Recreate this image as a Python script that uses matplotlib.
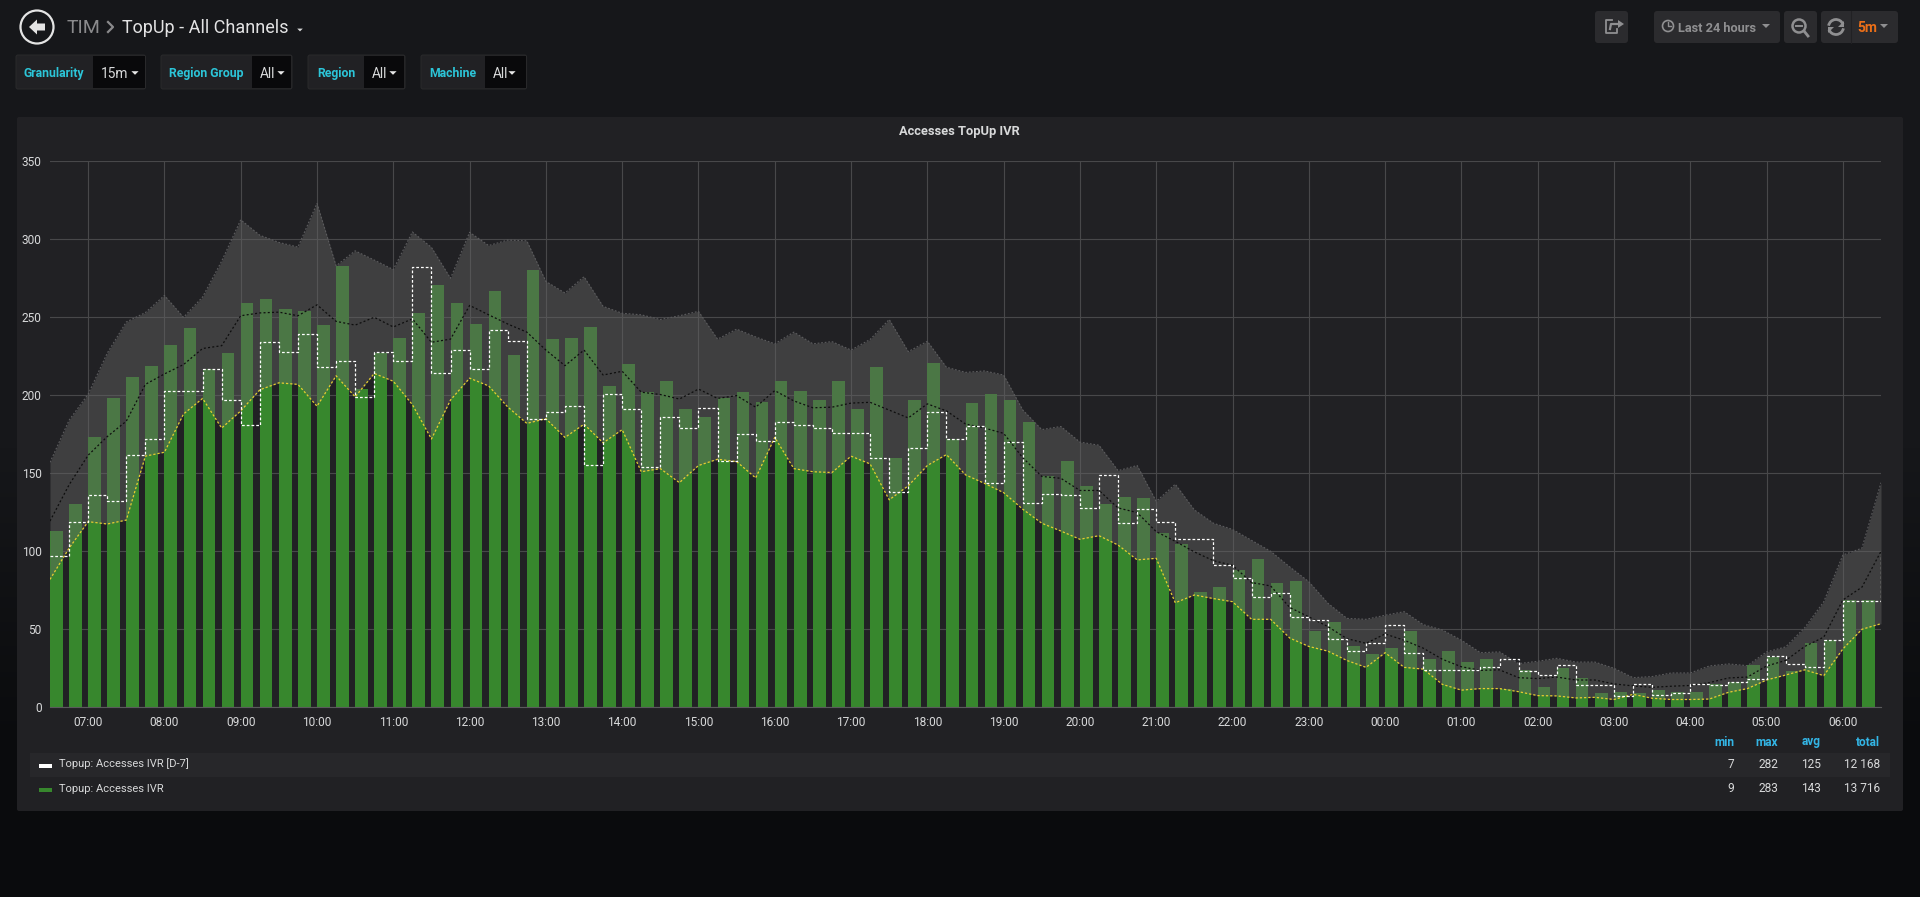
import numpy as np
import matplotlib
matplotlib.use("Agg")
import matplotlib.pyplot as plt
from matplotlib.patches import FancyBboxPatch, Rectangle, Circle, Polygon, Arc

plt.rcParams["font.family"] = ["Roboto", "DejaVu Sans"]

# valori, un punto ogni 15 minuti a partire dalle 06:30
bars_today = [113, 130, 173, 198, 212, 219, 232, 243, 217, 227, 259, 262, 255, 254, 245, 283,
              204, 227, 237, 253, 271, 259, 246, 267, 226, 280, 236, 237, 244, 206, 220, 202,
              209, 191, 186, 198, 202, 196, 209, 203, 197, 209, 191, 218, 160, 197, 221, 172,
              195, 201, 197, 183, 148, 158, 142, 130, 135, 134, 112, 105, 74, 77, 88, 95,
              80, 81, 49, 55, 39, 34, 38, 49, 31, 36, 29, 31, 12, 24, 13, 25,
              19, 9, 10, 9, 11, 10, 10, 15, 16, 27, 32, 23, 41, 43, 69, 69]

d7_steps = [97, 119, 136, 132, 162, 172, 203, 203, 217, 197, 181, 234, 228, 239, 218, 222,
            199, 228, 222, 282, 214, 229, 217, 242, 235, 185, 189, 193, 155, 201, 191, 154,
            186, 179, 192, 158, 175, 171, 183, 181, 179, 176, 176, 160, 138, 166, 189, 172,
            180, 144, 170, 131, 137, 136, 128, 149, 118, 127, 119, 108, 108, 91, 83, 71,
            73, 58, 56, 44, 36, 41, 53, 35, 24, 24, 24, 26, 31, 23, 21, 27,
            14, 14, 7, 15, 8, 9, 15, 14, 16, 18, 33, 28, 26, 43, 68, 68, 98]

band_min = [82, 102, 119, 117.5, 120, 161, 163.5, 188, 198, 179, 190, 203.5, 208, 207, 193, 212.5,
            199, 214, 209, 194, 172, 197, 211, 206, 192.5, 182, 185, 173, 181.5, 169.5, 178, 151,
            153, 144, 155, 159, 157.5, 147, 173, 153, 151, 150.5, 161, 156, 133, 142, 155, 162,
            149, 143.5, 137.6, 127, 118, 113, 107.7, 110, 104, 94.5, 95.5, 67, 72, 69.7, 67.7, 56.4,
            56.4, 44.4, 39, 36, 30, 25.6, 35, 25.6, 24.5, 14.7, 11, 12, 12, 10, 7.5, 7.3,
            6, 6.4, 5, 8.3, 5.8, 5, 5, 5.3, 9.6, 12, 17.5, 20.7, 24, 20.3, 37.4, 50, 53.6]

band_max = [157, 184, 200.7, 227, 247, 253, 264, 250, 263, 286, 312.5, 302.6, 298, 295, 323, 283,
            292.6, 286.7, 280.6, 304.7, 294.8, 275, 304.5, 296, 299.5, 299, 273, 265.6, 276, 257, 252.6, 251.6,
            248.6, 251, 253.8, 236, 242.4, 237.4, 233, 240.5, 233, 234.4, 229, 235.8, 248.6, 228, 234.6, 218,
            214.7, 215.6, 213, 190.6, 178, 180, 170, 168, 151.7, 155, 132, 143, 126.5, 118, 114, 107,
            100, 90, 80.5, 66.7, 57, 56.4, 59, 61.3, 53, 49.6, 43, 35, 35.5, 28, 29.5, 31.4,
            29, 29, 25, 19, 19.7, 22, 22, 26.5, 27.8, 26.7, 35.5, 38.7, 51, 67.7, 97.6, 102, 144]

band_mean = [119.4, 142.6, 161.6, 173.5, 183.4, 207, 213.7, 219.7, 230, 231.8, 251, 252.8, 253.3, 251, 258, 247.4,
             245, 250, 243.8, 249, 234, 236, 257.6, 251.6, 245.7, 240.5, 229, 219, 229, 213, 215.4, 202,
             200.5, 197.6, 204, 198, 199.8, 192.4, 203, 196.4, 192, 192.4, 195, 195.5, 190.5, 185.5, 194.5, 190,
             181.6, 179, 175.6, 160, 148, 146.8, 139, 139, 127.8, 124.8, 112.6, 106.4, 99.6, 94, 91, 80,
             77.8, 64, 58, 51.7, 44, 41, 47, 43, 37.9, 30.8, 26, 23.7, 24, 19, 18.4, 19.4,
             17.5, 17.5, 15, 13.7, 12.8, 13.5, 14, 15.8, 18.8, 19.4, 26.5, 30, 39, 45, 68.8, 77, 100]

y_ticks = [0, 50, 100, 150, 200, 250, 300, 350]
hour_ticks = list(range(7, 31))

legend_names = ["Topup: Accesses IVR [D-7]", "Topup: Accesses IVR"]
legend_columns = ["min", "max", "avg", "total"]
legend_values = [["7", "282", "125", "12 168"], ["9", "283", "143", "13 716"]]

W, H = 1920, 897
TEXT = "#d8d9da"
BLUE = "#33b5e5"
CYAN = "#2cc5d8"
GREEN = "#37872d"

fig = plt.figure(figsize=(W / 100, H / 100), dpi=100)

# asse in pixel per tutta la cornice della pagina
ui = fig.add_axes([0, 0, 1, 1])
ui.axis("off")
bg = np.array([[[0x16, 0x17, 0x1a]], [[0x16, 0x17, 0x1a]], [[0x0a, 0x0b, 0x0d]]], dtype=np.uint8)
ui.imshow(bg, extent=[0, W, H, 0], aspect="auto", interpolation="bilinear")
ui.set_xlim(0, W)
ui.set_ylim(H, 0)


def box(x0, y0, x1, y1, color, radius=3, edge="none"):
    ui.add_patch(FancyBboxPatch((x0 + radius, y0 + radius), x1 - x0 - 2 * radius, y1 - y0 - 2 * radius,
                                boxstyle=f"round,pad={radius},rounding_size={radius}",
                                fc=color, ec=edge, lw=0.7))


def caret(x, y, color=TEXT, size=4):
    ui.add_patch(Polygon([(x - size, y - size / 2), (x + size, y - size / 2), (x, y + size / 2)],
                         closed=True, fc=color, ec="none"))


def label(x, y, s, size=8.6, color=TEXT, weight="normal", ha="left"):
    ui.text(x, y, s, fontsize=size, color=color, fontweight=weight, ha=ha, va="center")


# pannello
box(17, 117, 1903, 811, "#212124", radius=2)
ui.add_patch(Rectangle((30, 753), 1860, 24, fc="#27272a", ec="none"))

# intestazione
ui.add_patch(Circle((37, 27), 16.5, fc="none", ec="#e4e4e4", lw=1.6))
ui.add_patch(Polygon([(29, 27), (37, 19.5), (37, 23.5), (45, 23.5), (45, 30.5), (37, 30.5), (37, 34.5)],
                     closed=True, fc="#e4e4e4", ec="none"))
label(67, 28, "TIM", size=14, color="#8a8a8c")
ui.plot([108, 113, 108], [22, 27, 32], color="#8a8a8c", lw=1.6)
label(122, 28, "TopUp - All Channels", size=13, color="#e3e3e4")
caret(300, 30, color="#d8d9da", size=2.8)

# variabili del template
filters = [(16, 93, 145.5, "Granularity", 54, "15m", 101, 135),
           (161, 252, 292, "Region Group", 206, "All", 259.5, 281),
           (308, 363.6, 405, "Region", 336, "All", 372, 393),
           (421, 484.5, 526.6, "Machine", 452.7, "All", 493, 512)]
for x0, split, x1, name, name_x, val, val_x, car_x in filters:
    box(x0, 55, x1, 89, "#212124", radius=2, edge="#2a2a2c")
    ui.add_patch(Rectangle((split, 56), x1 - split - 1, 32, fc="#09090b", ec="none"))
    label(name_x, 73.5, name, size=8.8, color=CYAN, weight="bold", ha="center")
    label(val_x, 74, val, size=9.9)
    caret(car_x, 73, color="#e8e8e8", size=3.6)

# bottoni in alto a destra
BTN = "#2b2b2e"
GREY = "#8f8f91"
box(1595, 11, 1628, 43, BTN)
box(1654, 11, 1780, 43, BTN)
box(1784, 11, 1817, 43, BTN)
box(1821, 11, 1898, 43, BTN)
ui.plot([1851, 1851], [11, 43], color="#212124", lw=0.8)

ui.plot([1612, 1606, 1606, 1617, 1617], [20, 20, 33, 33, 29], color=GREY, lw=1.3)
ui.plot([1610, 1611, 1619], [29, 24, 24], color=GREY, lw=1.6)
ui.add_patch(Polygon([(1618, 20), (1624, 24), (1618, 28)], closed=True, fc=GREY, ec="none"))

ui.add_patch(Circle((1668, 26), 5.5, fc="none", ec=GREY, lw=1.2))
ui.plot([1668, 1668, 1671], [22.5, 26.5, 26.5], color=GREY, lw=1)
label(1678, 28, "Last 24 hours", size=9.2, color=GREY, weight="bold")
caret(1766, 26, color=GREY, size=4)

ui.add_patch(Circle((1799, 26), 6.5, fc="none", ec=GREY, lw=1.8))
ui.plot([1804, 1808], [31, 36], color=GREY, lw=2)
ui.plot([1796, 1802], [26, 26], color=GREY, lw=1.4)

ui.add_patch(Arc((1836, 27), 15, 15, theta1=190, theta2=340, ec=GREY, lw=2))
ui.add_patch(Arc((1836, 27), 15, 15, theta1=10, theta2=160, ec=GREY, lw=2))
ui.add_patch(Polygon([(1844, 21), (1844, 27), (1838, 27)], closed=True, fc=GREY, ec="none"))
ui.add_patch(Polygon([(1828, 33), (1828, 27), (1834, 27)], closed=True, fc=GREY, ec="none"))

label(1857, 28, "5m", size=10, color="#eb6f18", weight="bold")
caret(1884, 26, color=GREY, size=4)

label(959, 131, "Accesses TopUp IVR", size=9.3, weight="bold", ha="center")

# legenda
for row, name in enumerate(legend_names):
    y = 765 + row * 24.5
    ui.add_patch(Rectangle((39, y - 1), 13, 4, fc="#ffffff" if row == 0 else GREEN, ec="none"))
    label(59, y - 1, name, size=8.0)
    for col_x, val in zip([1734, 1778, 1821, 1880], legend_values[row]):
        label(col_x, y - 1, val, size=8.6, ha="right")
for col_x, name in zip([1734, 1778, 1821, 1880], legend_columns):
    label(col_x, 742, name, size=8.6, color=BLUE, weight="bold", ha="right")

# grafico
left, right, top, bottom = 50, 1881, 161.3, 707.3
ax = fig.add_axes([left / W, 1 - bottom / H, (right - left) / W, (bottom - top) / H])
ax.patch.set_alpha(0)

hours = 6.5 + 0.25 * np.arange(len(band_max))
bar_hours = hours[:len(bars_today)]

ax.grid(True, color="#48484a", lw=0.8)
ax.set_axisbelow(True)
ax.bar(bar_hours, bars_today, width=0.166, align="edge", color=GREEN, zorder=2)
ax.fill_between(hours, band_min, band_max, color="#646464", alpha=0.45, lw=0, zorder=3)
ax.plot(hours, band_max, color="#5c5c5e", lw=0.8, ls=(0, (1.6, 1.6)), zorder=4)
ax.plot(hours, band_mean, color="#0e0e0e", lw=0.9, ls=(0, (1.6, 1.8)), zorder=4)
ax.plot(hours, band_min, color="#e6cf2e", lw=0.9, ls=(0, (1.8, 1.6)), zorder=5)
ax.step(hours, d7_steps, where="post", color="#ffffff", lw=0.9, ls=(0, (2.2, 1.6)), zorder=6)

ax.set_xlim(6.5, 30.5)
ax.set_ylim(0, 350)
ax.set_yticks(y_ticks)
ax.set_xticks(hour_ticks)
ax.set_xticklabels([f"{h % 24:02d}:00" for h in hour_ticks])
ax.tick_params(axis="both", length=0, labelsize=8.6, labelcolor=TEXT)
ax.tick_params(axis="x", pad=6)
ax.tick_params(axis="y", pad=6)
for side in ["top", "right", "left"]:
    ax.spines[side].set_visible(False)
ax.spines["bottom"].set_color("#5a5a5c")
ax.spines["bottom"].set_linewidth(0.8)

fig.savefig("out.png", dpi=100)
